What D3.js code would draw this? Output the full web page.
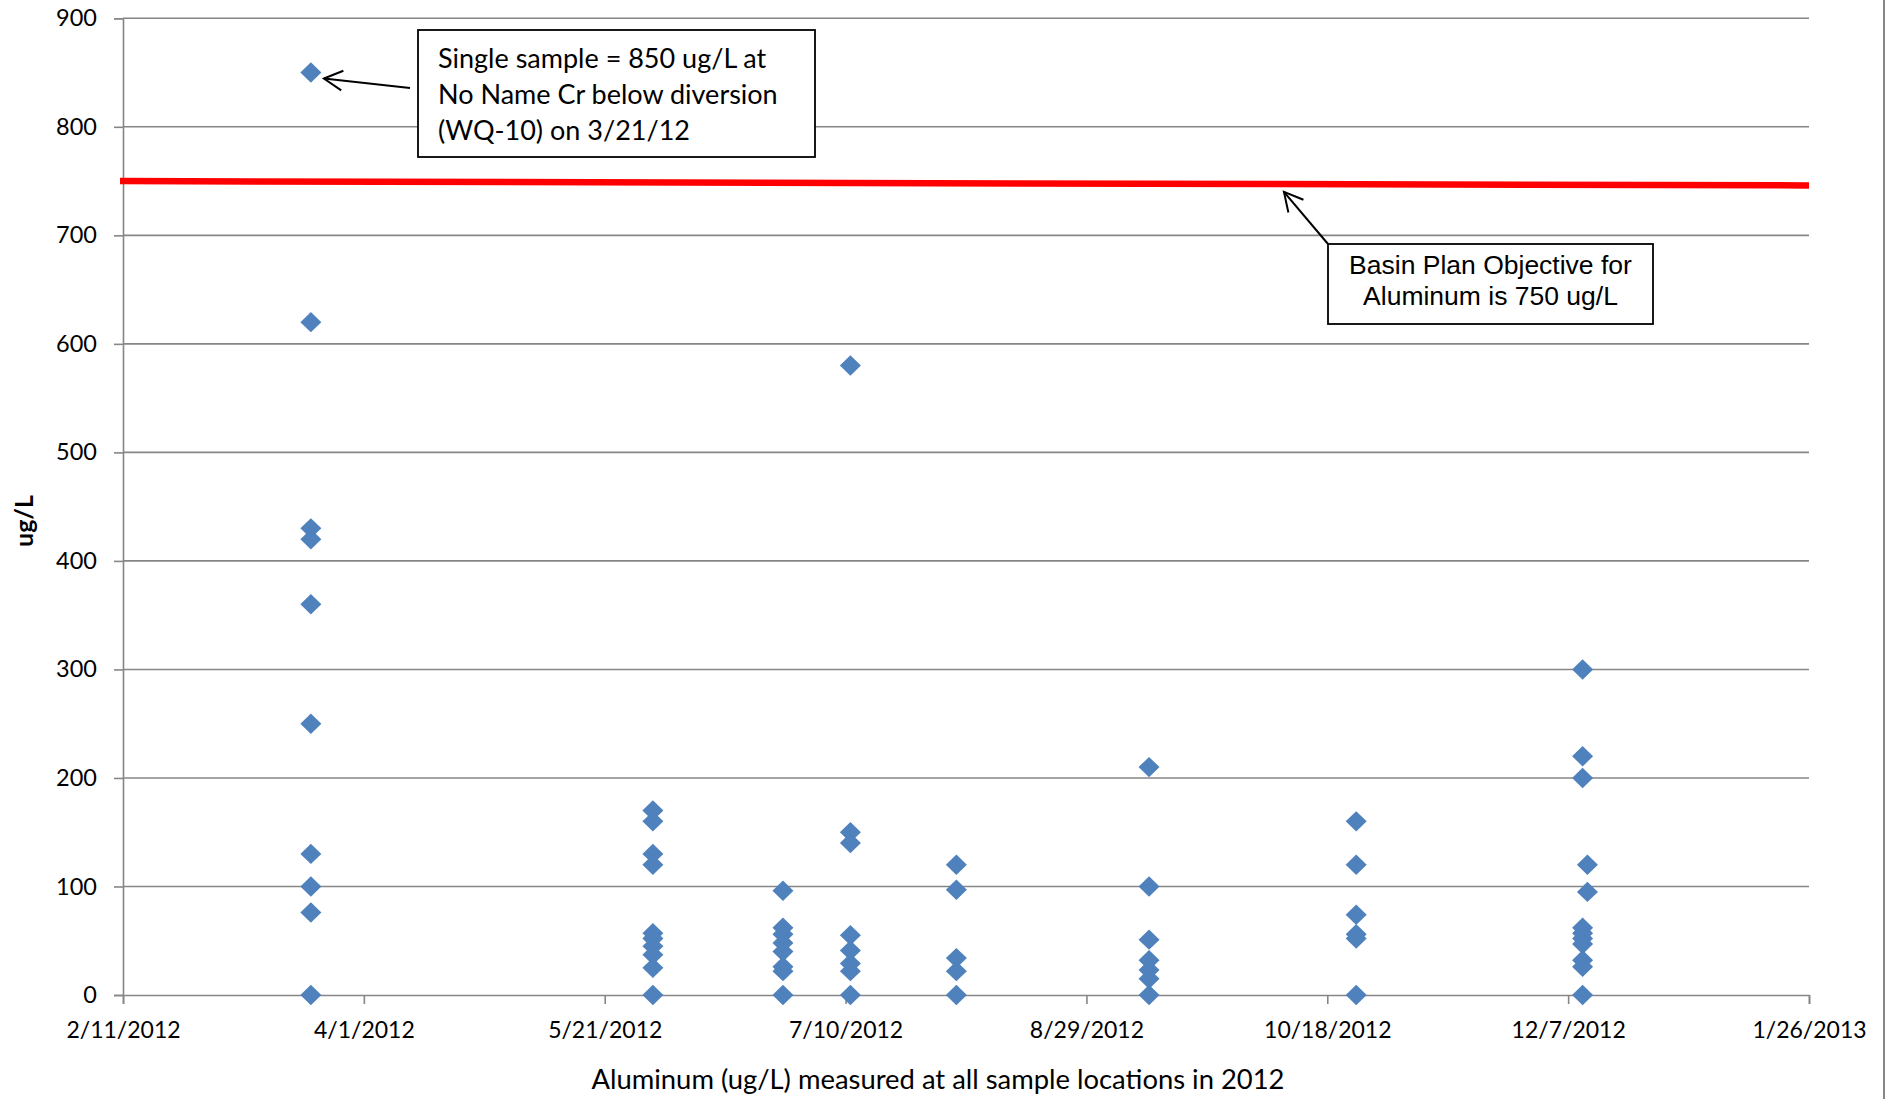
<!DOCTYPE html>
<html><head><meta charset="utf-8">
<script src="https://cdn.jsdelivr.net/npm/d3@7"></script>
<style>html,body{margin:0;padding:0;background:#fff;} svg{display:block;}</style>
</head><body>
<svg id="chart" width="1893" height="1099"></svg>
<script>
// ---------- data ----------
const sampleDates = ["2012-03-21","2012-05-31","2012-06-27","2012-07-11","2012-08-02","2012-09-11","2012-10-24","2012-12-10","2012-12-11"];
const sampleValues = [
  [850, 620, 430, 420, 360, 250, 130, 100, 76, 0],
  [170, 160, 130, 120, 57, 52, 45, 37, 25, 0],
  [96, 62, 56, 48, 40, 26, 22, 0],
  [580, 150, 140, 55, 41, 29, 22, 0],
  [120, 97, 34, 22, 0],
  [210, 100, 51, 32, 23, 15, 0],
  [160, 120, 74, 56, 52, 0],
  [300, 220, 200, 62, 57, 52, 47, 32, 26, 0],
  [120, 95]
];
const xTickDates = ["2012-02-11","2012-04-01","2012-05-21","2012-07-10","2012-08-29","2012-10-18","2012-12-07","2013-01-26"];
const xTickLabels = ["2/11/2012","4/1/2012","5/21/2012","7/10/2012","8/29/2012","10/18/2012","12/7/2012","1/26/2013"];
const yTickValues = [0, 100, 200, 300, 400, 500, 600, 700, 800, 900];
const yTickLabels = ["0","100","200","300","400","500","600","700","800","900"];
const objectiveDates = ["2012-02-11","2013-01-26"];
const objectiveValues = [750, 746];
const xAxisTitle = "Aluminum (ug/L) measured at all sample locations in 2012";
const yAxisTitle = "ug/L";
const note1Lines = ["Single sample = 850 ug/L at","No Name Cr below diversion","(WQ-10) on 3/21/12"];
const note2Lines = ["Basin Plan Objective for","Aluminum is 750 ug/L"];
const note1TargetDate = "2012-03-21", note1TargetValue = 850;
const note2TargetDate = "2012-10-09", note2TargetValue = 740;

// ---------- layout ----------
const W = 1893, H = 1099;
const M = {left: 123, right: 1809, top: 18.3, bottom: 995};
const gridColor = "#868686";
const markerColor = "#4F81BD";
const calibri = "Lato, 'Open Sans', sans-serif";
const arial = "'Liberation Sans', Arial, sans-serif";

const parse = d3.utcParse("%Y-%m-%d");
const x = d3.scaleUtc().domain([parse(xTickDates[0]), parse(xTickDates[xTickDates.length-1])]).range([M.left, M.right]);
const y = d3.scaleLinear().domain([0, 900]).range([M.bottom, M.top]);

const svg = d3.select("#chart");
svg.append("rect").attr("width", W).attr("height", H).attr("fill", "#fff");

// right border of chart area
svg.append("line").attr("x1", 1884).attr("x2", 1884).attr("y1", 0).attr("y2", H)
  .attr("stroke", gridColor).attr("stroke-width", 2);

// gridlines
svg.append("g").selectAll("line").data(yTickValues.filter(v => v > 0)).join("line")
  .attr("x1", M.left).attr("x2", M.right)
  .attr("y1", d => y(d)).attr("y2", d => y(d))
  .attr("stroke", gridColor).attr("stroke-width", 1.6);

// y axis
const yAxis = d3.axisLeft(y).tickValues(yTickValues).tickSize(9).tickPadding(17)
  .tickFormat((d, i) => yTickLabels[i]);
const gy = svg.append("g").attr("transform", `translate(${M.left},0)`).call(yAxis);
gy.select(".domain").attr("stroke", gridColor).attr("stroke-width", 1.6);
gy.selectAll(".tick line").attr("stroke", gridColor).attr("stroke-width", 1.6);
gy.selectAll(".tick text").attr("font-family", calibri).attr("font-size", 23.5).attr("fill", "#000");

// x axis
const xAxis = d3.axisBottom(x).tickValues(xTickDates.map(parse)).tickSize(9).tickPadding(18)
  .tickFormat((d, i) => xTickLabels[i]);
const gx = svg.append("g").attr("transform", `translate(0,${M.bottom})`).call(xAxis);
gx.select(".domain").attr("stroke", gridColor).attr("stroke-width", 1.6);
gx.selectAll(".tick line").attr("stroke", gridColor).attr("stroke-width", 1.6);
gx.selectAll(".tick text").attr("font-family", calibri).attr("font-size", 23).attr("fill", "#000");

// axis titles
svg.append("text").attr("x", 938).attr("y", 1089)
  .attr("text-anchor", "middle").attr("font-family", calibri).attr("font-size", 27.4)
  .attr("fill", "#000").text(xAxisTitle);
svg.append("text").attr("transform", `translate(33,521) rotate(-90)`)
  .attr("text-anchor", "middle").attr("font-family", calibri).attr("font-size", 25)
  .attr("font-weight", "bold").attr("fill", "#000").text(yAxisTitle);

// objective line
const objData = objectiveDates.map((d, i) => ({date: parse(d), value: objectiveValues[i]}));
svg.append("path").datum(objData)
  .attr("d", d3.line().x((d, i) => x(d.date) + (i === 0 ? -3 : 0)).y(d => y(d.value)))
  .attr("stroke", "#FF0000").attr("stroke-width", 6.5).attr("fill", "none");

// points
const points = [];
sampleDates.forEach((d, i) => sampleValues[i].forEach(v => points.push({date: parse(d), value: v})));
const hw = 10.5, hh = 10.2;
svg.append("g").selectAll("path").data(points).join("path")
  .attr("transform", d => `translate(${x(d.date)},${y(d.value)})`)
  .attr("d", `M0,${-hh}L${hw},0L0,${hh}L${-hw},0Z`)
  .attr("fill", markerColor);

// arrows
function arrow(x1, y1, x2, y2) {
  const g = svg.append("g").attr("stroke", "#000").attr("stroke-width", 2).attr("fill", "none");
  g.append("line").attr("x1", x1).attr("y1", y1).attr("x2", x2).attr("y2", y2);
  const a = Math.atan2(y1 - y2, x1 - x2), L = 21, s = 28 * Math.PI / 180;
  g.append("path").attr("d",
    `M${x2 + L*Math.cos(a - s)},${y2 + L*Math.sin(a - s)}L${x2},${y2}L${x2 + L*Math.cos(a + s)},${y2 + L*Math.sin(a + s)}`);
}

// note 1
const n1 = {x: 418, y: 30, w: 397, h: 127};
arrow(n1.x - 8, 88, x(parse(note1TargetDate)) + 13, y(note1TargetValue) + 6);
svg.append("rect").attr("x", n1.x).attr("y", n1.y).attr("width", n1.w).attr("height", n1.h)
  .attr("fill", "#fff").attr("stroke", "#000").attr("stroke-width", 1.8);
svg.append("g").selectAll("text").data(note1Lines).join("text")
  .attr("x", n1.x + 20).attr("y", (d, i) => 68 + i * 36)
  .attr("font-family", calibri).attr("font-size", 27).attr("fill", "#000").text(d => d);

// note 2
const n2 = {x: 1328, y: 244, w: 325, h: 80};
arrow(n2.x, n2.y, x(parse(note2TargetDate)), y(note2TargetValue));
svg.append("rect").attr("x", n2.x).attr("y", n2.y).attr("width", n2.w).attr("height", n2.h)
  .attr("fill", "#fff").attr("stroke", "#000").attr("stroke-width", 1.8);
svg.append("g").selectAll("text").data(note2Lines).join("text")
  .attr("x", n2.x + n2.w / 2).attr("y", (d, i) => 274 + i * 31).attr("text-anchor", "middle")
  .attr("font-family", arial).attr("font-size", 26.5).attr("fill", "#000").text(d => d);
</script>
</body></html>
